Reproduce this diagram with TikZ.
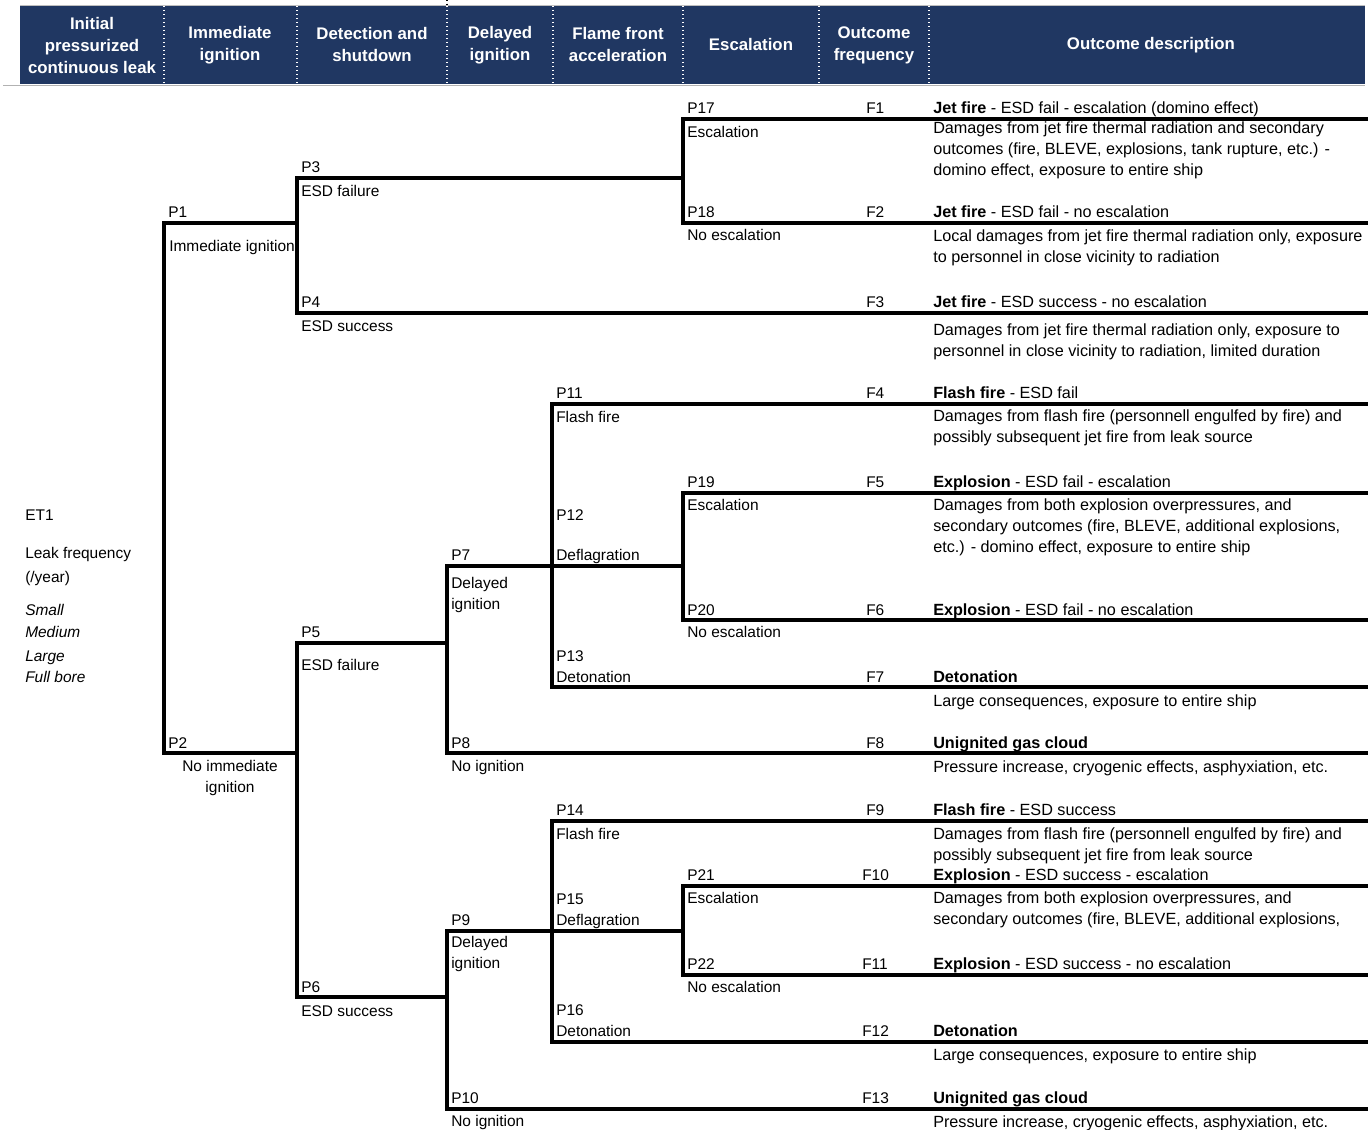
\documentclass[tikz,border=0pt]{standalone}
\usepackage{fontspec}
\setmainfont{Liberation Sans}
\definecolor{hdrblue}{RGB}{32,55,98}
\begin{document}
\begin{tikzpicture}[x=0.75pt,y=-0.75pt,
  br/.style={line width=2.5pt, line join=miter, line cap=rect},
  lbl/.style={anchor=base west, inner sep=0pt, yshift=-0.5pt,
    font=\fontsize{11.6}{14}\selectfont},
  clbl/.style={lbl, anchor=base},
  dlbl/.style={lbl, font=\fontsize{12.15}{14}\selectfont},
  hdr/.style={align=center, text=white, inner sep=0pt,
    font=\fontsize{12.6}{16.5}\selectfont\bfseries},
  sep/.style={white, dotted, line width=1pt}]
\useasboundingbox (0,0) rectangle (1372,1130);

% ---- column header band ----
\fill[hdrblue] (20,6) rectangle (1365,84);
\draw[gray!50, line width=0.6pt] (20,5.5) -- (1365,5.5);
\draw[gray!60, line width=1pt] (3,85.5) -- (1365,85.5);
\foreach \x in {164,297,447,553,683,819,929}
  \draw[sep] (\x,6) -- (\x,84);
\draw[black, dotted, line width=0.8pt] (447,0) -- (447,6);

\node[hdr] (h1) at (92,45)   {Initial\\pressurized\\continuous leak};
\node[hdr] (h2) at (230,45)  {Immediate\\ignition};
\node[hdr] (h3) at (372,45)  {Detection and\\shutdown};
\node[hdr] (h4) at (500,45)  {Delayed\\ignition};
\node[hdr] (h5) at (618,45)  {Flame front\\acceleration};
\node[hdr] (h6) at (751,45)  {Escalation};
\node[hdr] (h7) at (874,45)  {Outcome\\frequency};
\node[hdr] (h8) at (1151,45) {Outcome description};

% ---- branch points of the event tree ----
\coordinate (n1) at (164,223);  \coordinate (n2) at (164,753);
\coordinate (n3) at (297,178);  \coordinate (n4) at (297,313);
\coordinate (m1) at (297,223);
\coordinate (n5) at (297,643);  \coordinate (n6) at (297,997);
\coordinate (m2) at (297,753);
\coordinate (n17) at (683,119); \coordinate (n18) at (683,223);
\coordinate (m3) at (683,178);
\coordinate (n7) at (447,566);  \coordinate (n8) at (447,753);
\coordinate (m5) at (447,643);
\coordinate (n9) at (447,931);  \coordinate (n10) at (447,1109);
\coordinate (m6) at (447,997);
\coordinate (n11) at (552,404); \coordinate (n12) at (552,566);
\coordinate (n13) at (552,687);
\coordinate (n19) at (683,493); \coordinate (n20) at (683,620);
\coordinate (m12) at (683,566);
\coordinate (n14) at (552,821); \coordinate (n15) at (552,931);
\coordinate (n16) at (552,1042);
\coordinate (n21) at (683,886); \coordinate (n22) at (683,975);
\coordinate (m15) at (683,931);
% outcome ends
\coordinate (e17) at (1366,119); \coordinate (e18) at (1366,223);
\coordinate (e4)  at (1366,313); \coordinate (e11) at (1366,404);
\coordinate (e19) at (1366,493); \coordinate (e20) at (1366,620);
\coordinate (e13) at (1366,687); \coordinate (e8)  at (1366,753);
\coordinate (e14) at (1366,821); \coordinate (e21) at (1366,886);
\coordinate (e22) at (1366,975); \coordinate (e16) at (1366,1042);
\coordinate (e10) at (1366,1109);

% ---- branches ----
\draw[br] (m1) -- (n1) -- (n2) -- (m2);
\draw[br] (m3) -- (n3) -- (n4) -- (e4);
\draw[br] (e17) -- (n17) -- (n18) -- (e18);
\draw[br] (m5) -- (n5) -- (n6) -- (m6);
\draw[br] (n12) -- (n7) -- (n8) -- (e8);
\draw[br] (e11) -- (n11) -- (n13) -- (e13);
\draw[br] (n12) -- (m12);
\draw[br] (e19) -- (n19) -- (n20) -- (e20);
\draw[br] (n15) -- (n9) -- (n10) -- (e10);
\draw[br] (e14) -- (n14) -- (n16) -- (e16);
\draw[br] (n15) -- (m15);
\draw[br] (e21) -- (n21) -- (n22) -- (e22);

% ---- initiating event ----
\node[lbl] (et) at (25,520) {ET1};
\node[lbl] (lf1) at (25,558) {Leak frequency};
\node[lbl] (lf2) at (25,582) {(/year)};
\node[lbl] (s1) at (25,615) {\itshape Small};
\node[lbl] (s2) at (25,637) {\itshape Medium};
\node[lbl] (s3) at (25,661) {\itshape Large};
\node[lbl] (s4) at (25,682) {\itshape Full bore};

% ---- branch labels ----
\node[lbl] (p1) at (168,217) {P1};
\node[lbl] (p1t) at (169,251) {Immediate ignition};
\node[lbl] (p2) at (168,748) {P2};
\node[clbl] (p2t) at (230,771) {No immediate};
\node[clbl] (p2u) at (230,792) {ignition};
\node[lbl] (p3) at (301,172) {P3};
\node[lbl] (p3t) at (301,196) {ESD failure};
\node[lbl] (p4) at (301,307) {P4};
\node[lbl] (p4t) at (301,331) {ESD success};
\node[lbl] (p5) at (301,637) {P5};
\node[lbl] (p5t) at (301,670) {ESD failure};
\node[lbl] (p6) at (301,992) {P6};
\node[lbl] (p6t) at (301,1016) {ESD success};
\node[lbl] (p7) at (451,560) {P7};
\node[lbl] (p7t) at (451,588) {Delayed};
\node[lbl] (p7u) at (451,609) {ignition};
\node[lbl] (p8) at (451,748) {P8};
\node[lbl] (p8t) at (451,771) {No ignition};
\node[lbl] (p9) at (451,925) {P9};
\node[lbl] (p9t) at (451,947) {Delayed};
\node[lbl] (p9u) at (451,968) {ignition};
\node[lbl] (p10) at (451,1103) {P10};
\node[lbl] (p10t) at (451,1126) {No ignition};
\node[lbl] (p11) at (556,398) {P11};
\node[lbl] (p11t) at (556,422) {Flash fire};
\node[lbl] (p12) at (556,520) {P12};
\node[lbl] (p12t) at (556,560) {Deflagration};
\node[lbl] (p13) at (556,661) {P13};
\node[lbl] (p13t) at (556,682) {Detonation};
\node[lbl] (p14) at (556,815) {P14};
\node[lbl] (p14t) at (556,839) {Flash fire};
\node[lbl] (p15) at (556,904) {P15};
\node[lbl] (p15t) at (556,925) {Deflagration};
\node[lbl] (p16) at (556,1015) {P16};
\node[lbl] (p16t) at (556,1036) {Detonation};
\node[lbl] (p17) at (687,113) {P17};
\node[lbl] (p17t) at (687,137) {Escalation};
\node[lbl] (p18) at (687,217) {P18};
\node[lbl] (p18t) at (687,240) {No escalation};
\node[lbl] (p19) at (687,487) {P19};
\node[lbl] (p19t) at (687,510) {Escalation};
\node[lbl] (p20) at (687,615) {P20};
\node[lbl] (p20t) at (687,637) {No escalation};
\node[lbl] (p21) at (687,880) {P21};
\node[lbl] (p21t) at (687,903) {Escalation};
\node[lbl] (p22) at (687,969) {P22};
\node[lbl] (p22t) at (687,992) {No escalation};

% ---- outcome frequencies ----
\foreach \xx/\yy/\ff in {866/113/F1, 866/217/F2, 866/307/F3, 866/398/F4,
    866/487/F5, 866/615/F6, 866/682/F7, 866/748/F8, 866/815/F9,
    862/880/F10, 862/969/F11, 862/1036/F12, 862/1103/F13}
  \node[lbl] (\ff) at (\xx,\yy) {\ff};

% ---- outcome descriptions ----
\foreach \yy/\tt [count=\i] in {
  113/{\textbf{Jet fire} - ESD fail - escalation (domino effect)},
  133/{Damages from jet fire thermal radiation and secondary},
  154/{outcomes (fire, BLEVE, explosions, tank rupture, etc.) -},
  175/{domino effect, exposure to entire ship},
  217/{\textbf{Jet fire} - ESD fail - no escalation},
  241/{Local damages from jet fire thermal radiation only, exposure},
  262/{to personnel in close vicinity to radiation},
  307/{\textbf{Jet fire} - ESD success - no escalation},
  335/{Damages from jet fire thermal radiation only, exposure to},
  356/{personnel in close vicinity to radiation, limited duration},
  398/{\textbf{Flash fire} - ESD fail},
  421/{Damages from flash fire (personnell engulfed by fire) and},
  442/{possibly subsequent jet fire from leak source},
  487/{\textbf{Explosion} - ESD fail - escalation},
  510/{Damages from both explosion overpressures, and},
  531/{secondary outcomes (fire, BLEVE, additional explosions,},
  552/{etc.) - domino effect, exposure to entire ship},
  615/{\textbf{Explosion} - ESD fail - no escalation},
  682/{\textbf{Detonation}},
  706/{Large consequences, exposure to entire ship},
  748/{\textbf{Unignited gas cloud}},
  772/{Pressure increase, cryogenic effects, asphyxiation, etc.},
  815/{\textbf{Flash fire} - ESD success},
  839/{Damages from flash fire (personnell engulfed by fire) and},
  860/{possibly subsequent jet fire from leak source},
  880/{\textbf{Explosion} - ESD success - escalation},
  903/{Damages from both explosion overpressures, and},
  924/{secondary outcomes (fire, BLEVE, additional explosions,},
  969/{\textbf{Explosion} - ESD success - no escalation},
  1036/{\textbf{Detonation}},
  1060/{Large consequences, exposure to entire ship},
  1103/{\textbf{Unignited gas cloud}},
  1127/{Pressure increase, cryogenic effects, asphyxiation, etc.}}
  \node[dlbl] (d\i) at (933,\yy) {\tt};

\end{tikzpicture}
\end{document}
